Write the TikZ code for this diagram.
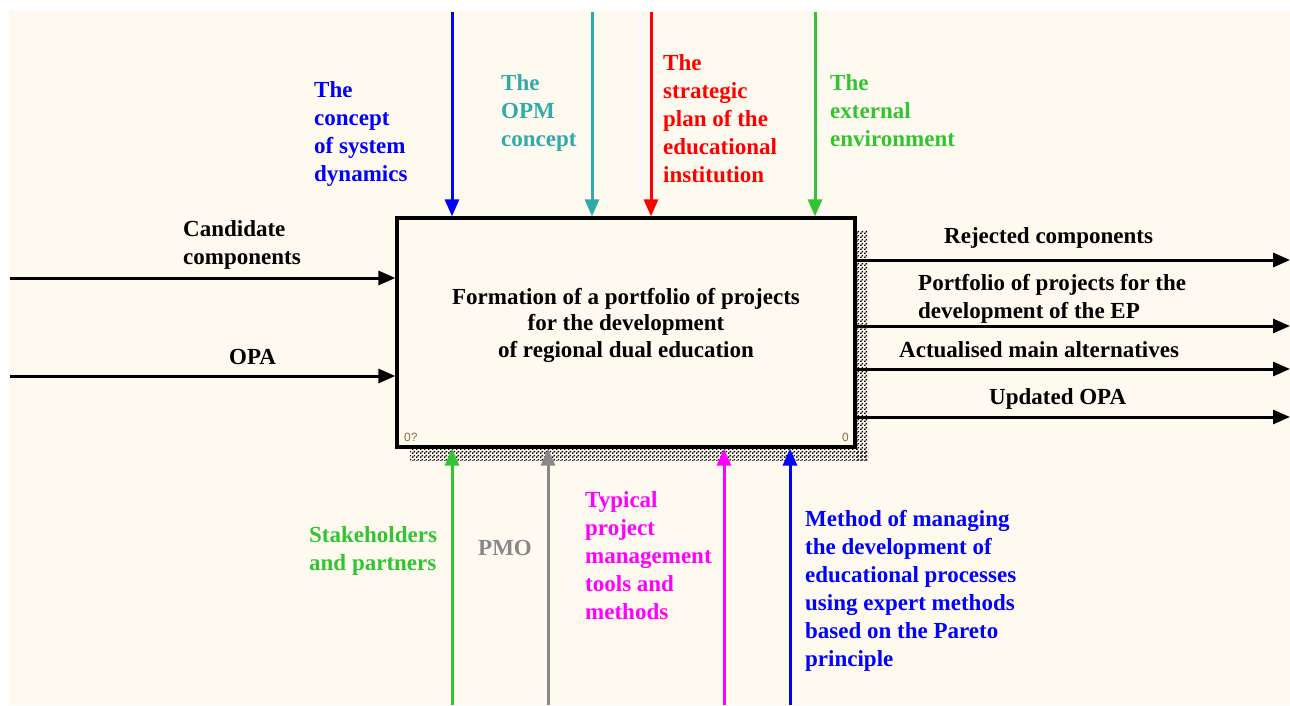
\documentclass[tikz,border=0pt]{standalone}
\usepackage{fontspec}
\setmainfont{Liberation Serif}
\setsansfont{Liberation Sans}
\usetikzlibrary{arrows.meta,patterns}
\definecolor{bg}{HTML}{FFFAF0}
\definecolor{cblue}{HTML}{0000FF}
\definecolor{cteal}{HTML}{33AAAA}
\definecolor{cred}{HTML}{FF0000}
\definecolor{cgreen}{HTML}{33C433}
\definecolor{cgray}{HTML}{888888}
\definecolor{cmag}{HTML}{FF00FF}
\definecolor{cnum}{HTML}{8A6A40}
\pgfdeclarepatternformonly{shdots}{\pgfpointorigin}{\pgfpoint{4pt}{4pt}}{\pgfpoint{4pt}{4pt}}{%
  \pgfpathrectangle{\pgfpoint{0pt}{0pt}}{\pgfpoint{1.8pt}{1.8pt}}%
  \pgfpathrectangle{\pgfpoint{2pt}{2pt}}{\pgfpoint{1.8pt}{1.8pt}}%
  \pgfusepath{fill}}
\tikzset{
  arr/.style={line width=3pt,-{Triangle[length=17pt,width=14pt]}},
  lbl/.style={font=\bfseries\fontsize{23}{28}\selectfont,align=left,inner sep=0pt,anchor=west},
  num/.style={font=\sffamily\fontsize{12}{14}\selectfont,text=cnum,inner sep=0pt,anchor=west},
  mainbox/.style={draw,line width=3.2pt,fill=bg,minimum width=458pt,minimum height=229pt,inner sep=0pt},
  shadow/.style={pattern=shdots,pattern color=black}
}
\begin{document}
\begin{tikzpicture}[x=1pt,y=-1pt]
\useasboundingbox (0,0) rectangle (1290,706);
\fill[bg] (9,11) rectangle (1290,705);
% shadow
\fill[shadow] (857,230) rectangle (868,460);
\fill[shadow] (410,449) rectangle (868,460);
% box
\node[mainbox] (box) at (626,332.5) {};
\node[font=\bfseries\fontsize{23}{26.5}\selectfont,align=center,inner sep=0pt] (boxtxt) at (626,325)
  {Formation of a portfolio of projects\\for the development\\of regional dual education};
\node[num] (n1) at (404,437) {0?};
\node[num] (n2) at (842,437) {0};
% coordinates
\coordinate (t1) at (452,12);
\coordinate (t2) at (592,12);
\coordinate (t3) at (651,12);
\coordinate (t4) at (815,12);
\coordinate (b1) at (452,705);
\coordinate (b2) at (548,705);
\coordinate (b3) at (724,705);
\coordinate (b4) at (790,705);
\coordinate (l1) at (10,278);
\coordinate (l2) at (10,376);
\coordinate (r1) at (1290,260);
\coordinate (r2) at (1290,326);
\coordinate (r3) at (1290,369);
\coordinate (r4) at (1290,417);
% controls
\draw[arr,cblue] (t1) -- (t1 |- box.north);
\draw[arr,cteal] (t2) -- (t2 |- box.north);
\draw[arr,cred] (t3) -- (t3 |- box.north);
\draw[arr,cgreen] (t4) -- (t4 |- box.north);
% mechanisms
\draw[arr,cgreen] (b1) -- (b1 |- box.south);
\draw[arr,cgray] (b2) -- (b2 |- box.south);
\draw[arr,cmag] (b3) -- (b3 |- box.south);
\draw[arr,cblue] (b4) -- (b4 |- box.south);
% inputs
\draw[arr] (l1) -- (l1 -| box.west);
\draw[arr] (l2) -- (l2 -| box.west);
% outputs
\draw[arr] (r1 -| box.east) -- (r1);
\draw[arr] (r2 -| box.east) -- (r2);
\draw[arr] (r3 -| box.east) -- (r3);
\draw[arr] (r4 -| box.east) -- (r4);
% labels top
\node[lbl,text=cblue] (lt1) at (314,134) {The\\concept\\of system\\dynamics};
\node[lbl,text=cteal] (lt2) at (501,113) {The\\OPM\\concept};
\node[lbl,text=cred] (lt3) at (663,119) {The\\strategic\\plan of the\\educational\\institution};
\node[lbl,text=cgreen] (lt4) at (830,111) {The\\external\\environment};
% labels left
\node[lbl] (ll1) at (183,244.5) {Candidate\\components};
\node[lbl] (ll2) at (229,357) {OPA};
% labels right
\node[lbl] (lr1) at (944,238) {Rejected components};
\node[lbl] (lr2) at (918,299) {Portfolio of projects for the\\development of the EP};
\node[lbl] (lr3) at (899,350) {Actualised main alternatives};
\node[lbl] (lr4) at (989,399) {Updated OPA};
% labels bottom
\node[lbl,text=cgreen] (lb1) at (309,551) {Stakeholders\\and partners};
\node[lbl,text=cgray] (lb2) at (478,548) {PMO};
\node[lbl,text=cmag] (lb3) at (585,555.5) {Typical\\project\\management\\tools and\\methods};
\node[lbl,text=cblue] (lb4) at (805,591) {Method of managing\\the development of\\educational processes\\using expert methods\\based on the Pareto\\principle};
\end{tikzpicture}
\end{document}
